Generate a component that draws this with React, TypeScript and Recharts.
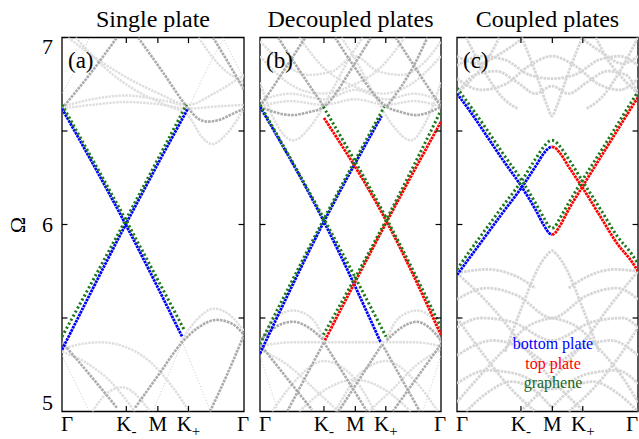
import { LineChart, Line, XAxis, YAxis, ReferenceArea, ReferenceLine } from 'recharts'

type Curve = number[][]

// path coordinate: Γ = 0 ... Γ = 6, value = Ω
const xTickVals = [0, 2.12, 3.16, 4.17, 6]
const xTickMain = ['Γ', 'K', 'M', 'K', 'Γ']
const xTickSub = ['', '-', '', '+', '']
const yTickVals = [5, 6, 7]
const innerTicksX = [2.12, 3.16, 4.17]
const innerTicksY = [5.5, 6, 6.5]
const titles = ['Single plate', 'Decoupled plates', 'Coupled plates']
const tags = ['(a)', '(b)', '(c)']
const legendNames = ['bottom plate', 'top plate', 'graphene']

// (a) single plate
const aBlue: Curve[] = [
  [[0, 6.62], [2.1, 6.0], [3.96, 5.4]],
  [[0, 5.33], [2.1, 6.0], [4.15, 6.62]],
]
const aGreen: Curve[] = [
  [[0, 6.64], [2.1, 6.025], [4.05, 5.43]],
  [[0, 5.4], [2.1, 6.025], [4.1, 6.64]],
]
const aDark: Curve[] = [
  [[0, 6.62], [0.9, 6.8], [1.81, 7.0]],
  [[2.51, 7.0], [3.3, 6.82], [4.17, 6.62], [4.5, 6.565], [4.8, 6.55], [5.2, 6.56], [5.6, 6.59], [6, 6.62]],
  [[4.98, 7.0], [5.5, 6.86], [6, 6.72]],
  [[0, 5.37], [0.9, 5.2], [1.81, 5.02]],
  [[2.41, 5.02], [3.2, 5.2], [3.96, 5.37], [4.5, 5.45], [5.1, 5.49], [5.6, 5.47], [6, 5.41]],
  [[4.88, 5.0], [5.45, 5.2], [6, 5.41]],
]
const aLight: Curve[] = [
  [[0, 6.62], [1, 6.64], [2.1, 6.655], [3.1, 6.645], [4.17, 6.62], [5, 6.63], [6, 6.64]],
  [[0, 6.63], [1, 6.67], [2.1, 6.69], [3.1, 6.67], [4.17, 6.63]],
  [[0.45, 7.0], [1.4, 6.84], [2.4, 6.72], [3.4, 6.64], [4.17, 6.58], [4.6, 6.47], [4.95, 6.43], [5.4, 6.48], [6, 6.62]],
  [[0.2, 7.0], [1.2, 6.88], [2.2, 6.78], [3.2, 6.7], [4.17, 6.64], [5, 6.7], [6, 6.8]],
  [[4.5, 7.0], [5.2, 6.85], [6, 6.76]],
  [[0, 5.33], [0.6, 5.36], [1.3, 5.37], [2.0, 5.35], [2.8, 5.28], [3.6, 5.14], [4.2, 5.0]],
  [[0, 5.32], [0.8, 5.26], [1.6, 5.16], [2.4, 5.0]],
  [[1.0, 5.0], [1.5, 5.1], [2.0, 5.13], [2.5, 5.08], [2.9, 5.0]],
  [[3.9, 5.37], [4.5, 5.5], [5.0, 5.55], [5.5, 5.52], [6, 5.43]],
]
const aThin: Curve[] = [
  [[0, 5.3], [0.9, 5.0]],
  [[3.0, 5.0], [3.96, 5.37]],
  [[4.0, 5.36], [4.9, 5.0]],
  [[4.17, 6.62], [5.0, 6.9], [5.35, 7.0]],
  [[5.3, 7.0], [6, 6.78]],
  [[0, 6.7], [0.5, 6.85], [0.9, 7.0]],
]

// (b) decoupled plates
const bBlue: Curve[] = [
  [[0, 6.63], [2.12, 6.015], [4.0, 5.37]],
  [[0, 5.31], [2.12, 6.015], [4.03, 6.58]],
]
const bRed: Curve[] = [
  [[2.12, 6.57], [4.2, 6.015], [6, 5.41]],
  [[2.15, 5.38], [4.2, 6.015], [6, 6.55]],
]
const bGreen: Curve[] = [
  [[0, 6.64], [2.12, 6.03], [4.18, 5.4]],
  [[0, 5.36], [2.12, 6.03], [4.12, 6.63]],
  [[2.1, 6.63], [4.2, 6.03], [6, 5.45]],
  [[2.1, 5.41], [4.2, 6.03], [6, 6.61]],
]
const bDark: Curve[] = [
  [[0, 6.63], [0.9, 6.85], [1.5, 7.0]],
  [[0.6, 7.0], [1.2, 6.85], [2.12, 6.63]],
  [[0, 6.63], [0.5, 6.6], [1.05, 6.585], [1.6, 6.6], [2.12, 6.63], [3.1, 6.85], [3.68, 7.0]],
  [[2.49, 7.0], [3.1, 6.85], [4.2, 6.63], [4.7, 6.6], [5.15, 6.585], [5.6, 6.6], [6, 6.63]],
  [[4.2, 6.63], [5.1, 6.85], [5.55, 7.0]],
  [[4.5, 7.0], [5.1, 6.85], [6, 6.63]],
  [[0, 5.38], [0.5, 5.45], [1.1, 5.48], [1.6, 5.45], [2.12, 5.38]],
  [[4.2, 5.38], [4.7, 5.45], [5.2, 5.48], [5.6, 5.45], [6, 5.38]],
  [[0, 5.36], [1.72, 5.01]],
  [[0.9, 5.0], [2.12, 5.37]],
  [[2.12, 5.37], [3.55, 5.0]],
  [[2.6, 5.0], [4.05, 5.36]],
  [[4.05, 5.36], [5.3, 5.0]],
  [[4.4, 5.0], [6, 5.36]],
]
const bLight: Curve[] = [
  [[0, 6.63], [1, 6.66], [2.12, 6.64], [3.15, 6.67], [4.2, 6.64], [5.1, 6.66], [6, 6.63]],
  [[0, 6.66], [1, 6.7], [2.12, 6.67], [3.15, 6.72], [4.2, 6.67], [5.1, 6.7], [6, 6.66]],
  [[0, 6.76], [0.5, 6.55], [1.1, 6.45], [1.7, 6.53], [2.4, 6.72], [3.0, 6.9], [3.4, 7.0]],
  [[2.7, 7.0], [3.1, 6.9], [3.7, 6.72], [4.4, 6.53], [5.0, 6.45], [5.5, 6.55], [6, 6.76]],
  [[0, 6.9], [1, 6.75], [2, 6.7], [3, 6.74], [4, 6.84], [4.8, 7.0]],
  [[1.3, 7.0], [2.1, 6.84], [3.1, 6.74], [4.1, 6.7], [5, 6.75], [6, 6.9]],
  [[0, 6.98], [0.8, 6.86], [1.6, 6.8], [2.4, 6.82], [3.15, 6.9], [3.9, 6.82], [4.7, 6.8], [5.4, 6.86], [6, 6.98]],
  [[0, 5.35], [1.1, 5.37], [2.12, 5.37], [3.15, 5.37], [4.2, 5.37], [5.1, 5.37], [6, 5.35]],
  [[0, 5.36], [0.5, 5.5], [1.1, 5.54], [1.7, 5.5], [2.12, 5.39]],
  [[4.2, 5.39], [4.6, 5.5], [5.2, 5.54], [5.7, 5.5], [6, 5.36]],
  [[0, 5.33], [0.9, 5.25], [1.8, 5.12], [2.6, 5.0]],
  [[3.6, 5.0], [4.4, 5.12], [5.2, 5.25], [6, 5.33]],
  [[1.3, 5.0], [2.2, 5.12], [3.15, 5.17], [4.1, 5.12], [5.0, 5.0]],
  [[0.4, 5.0], [1.2, 5.17], [2.1, 5.27], [3.0, 5.2], [3.8, 5.0]],
  [[2.5, 5.0], [3.3, 5.2], [4.2, 5.27], [5.1, 5.17], [5.9, 5.0]],
]
const bThin: Curve[] = [
  [[0, 5.3], [0.6, 5.0]],
  [[5.4, 5.0], [6, 5.3]],
]

// (c) coupled plates
const cBlue: Curve[] = [
  [[0, 6.7], [0.5, 6.59], [1.0, 6.47], [1.5, 6.35], [2.15, 6.2], [2.6, 6.08], [2.9, 5.99], [3.05, 5.955], [3.15, 5.945]],
  [[0, 5.73], [0.5, 5.84], [1.0, 5.95], [1.5, 6.06], [2.15, 6.2], [2.6, 6.31], [2.9, 6.385], [3.05, 6.41], [3.15, 6.415]],
]
const cRed: Curve[] = [
  [[3.15, 5.945], [3.25, 5.955], [3.4, 5.99], [3.7, 6.08], [4.15, 6.2], [4.8, 6.37], [5.3, 6.5], [5.8, 6.63], [6, 6.68]],
  [[3.15, 6.415], [3.25, 6.41], [3.4, 6.385], [3.7, 6.31], [4.15, 6.2], [4.8, 6.03], [5.3, 5.9], [5.8, 5.8], [6, 5.75]],
]
const cGreen: Curve[] = [
  [[0, 6.73], [0.5, 6.62], [1.0, 6.505], [1.5, 6.385], [2.15, 6.235], [2.6, 6.115], [2.9, 6.03], [3.05, 5.99], [3.15, 5.98],
    [3.25, 5.99], [3.4, 6.03], [3.7, 6.115], [4.15, 6.235], [4.8, 6.4], [5.3, 6.53], [5.8, 6.66], [6, 6.71]],
  [[0, 5.76], [0.5, 5.875], [1.0, 5.985], [1.5, 6.095], [2.15, 6.235], [2.6, 6.35], [2.9, 6.42], [3.05, 6.445], [3.15, 6.45],
    [3.25, 6.445], [3.4, 6.42], [3.7, 6.35], [4.15, 6.235], [4.8, 6.07], [5.3, 5.94], [5.8, 5.84], [6, 5.79]],
]
const cLight: Curve[] = [
  [[2.15, 7.0], [2.7, 6.77], [3.0, 6.63], [3.15, 6.58], [3.3, 6.63], [3.6, 6.77], [4.15, 7.0]],
  [[0, 6.7], [0.6, 6.8], [1.3, 6.82], [2.0, 6.76], [2.6, 6.7], [3.15, 6.74], [3.7, 6.7], [4.3, 6.76], [5.0, 6.82], [5.6, 6.8], [6, 6.7]],
  [[0, 6.78], [0.8, 6.72], [1.6, 6.75], [2.4, 6.85], [3.15, 6.9], [3.9, 6.85], [4.7, 6.75], [5.4, 6.72], [6, 6.78]],
  [[0, 6.85], [0.8, 6.9], [1.6, 6.88], [2.4, 6.8], [3.15, 6.78], [3.9, 6.8], [4.7, 6.88], [5.4, 6.9], [6, 6.85]],
  [[0, 6.9], [0.7, 6.86], [1.5, 6.92], [2.2, 7.0]],
  [[4.1, 7.0], [4.8, 6.92], [5.5, 6.86], [6, 6.9]],
  [[0, 6.7], [0.5, 6.78], [1.0, 6.88], [1.4, 7.0]],
  [[4.6, 7.0], [5.0, 6.88], [5.5, 6.78], [6, 6.7]],
  [[0.3, 7.0], [0.9, 6.82], [1.5, 6.68], [2.0, 6.62]],
  [[4.3, 6.62], [4.8, 6.68], [5.4, 6.82], [6, 7.0]],
  [[1.6, 5.32], [2.2, 5.58], [2.7, 5.77], [3.0, 5.84], [3.15, 5.86], [3.3, 5.84], [3.6, 5.77], [4.1, 5.58], [4.7, 5.32]],
  [[0, 5.74], [1.0, 5.76], [2.0, 5.72], [2.6, 5.66]],
  [[3.7, 5.66], [4.3, 5.72], [5.2, 5.76], [6, 5.75]],
  [[0, 5.74], [1.2, 5.55], [2.2, 5.35], [3.15, 5.17], [4.2, 5.0]],
  [[2.1, 5.0], [3.15, 5.17], [4.1, 5.35], [5.0, 5.55], [6, 5.75]],
  [[0, 5.6], [1.0, 5.66], [2.0, 5.62], [3.15, 5.5], [4.3, 5.62], [5.3, 5.66], [6, 5.6]],
  [[0, 5.45], [0.8, 5.5], [1.8, 5.48], [3.15, 5.38], [4.5, 5.48], [5.5, 5.5], [6, 5.45]],
  [[0, 5.3], [1.2, 5.38], [2.3, 5.33], [3.15, 5.25], [4.0, 5.33], [5.1, 5.38], [6, 5.3]],
  [[0, 5.15], [1, 5.22], [2, 5.2], [3.15, 5.12], [4.3, 5.2], [5.3, 5.22], [6, 5.15]],
  [[0, 5.5], [0.9, 5.3], [1.8, 5.12], [2.6, 5.0]],
  [[3.7, 5.0], [4.5, 5.12], [5.4, 5.3], [6, 5.45]],
  [[0.3, 5.0], [1.0, 5.1], [1.8, 5.16], [2.5, 5.12], [3.15, 5.02]],
  [[3.15, 5.02], [3.8, 5.12], [4.5, 5.16], [5.3, 5.1], [6, 5.0]],
  [[0, 5.05], [0.7, 5.18], [1.5, 5.32], [2.3, 5.45], [3.15, 5.5]],
  [[3.15, 5.5], [4.0, 5.45], [4.8, 5.32], [5.5, 5.18], [6, 5.05]],
]

type Style = { stroke: string; strokeWidth: number; strokeDasharray: string }
const DARK: Style = { stroke: '#ababab', strokeWidth: 2.6, strokeDasharray: '2.6 1' }
const LIGHT: Style = { stroke: '#dedede', strokeWidth: 2.4, strokeDasharray: '2.4 1' }
const LIGHT_C: Style = { stroke: '#d6d6d6', strokeWidth: 2.8, strokeDasharray: '2.6 1' }
const THIN: Style = { stroke: '#d0d0d0', strokeWidth: 1, strokeDasharray: '1.2 1.8' }
const BLUE: Style = { stroke: '#0000ff', strokeWidth: 2.8, strokeDasharray: '2.6 0.8' }
const RED: Style = { stroke: '#ff0000', strokeWidth: 2.8, strokeDasharray: '2.6 0.8' }
const GREEN: Style = { stroke: '#1c7a1c', strokeWidth: 3, strokeDasharray: '2.2 2.4' }

const FONT = 'Liberation Serif'

const pts = (c: Curve) => c.map(([x, y]) => ({ x, y }))

function XTick(props: any) {
  const { x, y, payload, lastShift } = props
  const i = xTickVals.indexOf(payload.value)
  const shift = i === 0 ? 5 : i === xTickVals.length - 1 ? lastShift : 0
  return (
    <text x={x + shift} y={y + 19} textAnchor="middle" style={{ fontFamily: FONT }} fontSize={21} fill="#000">
      {xTickMain[i]}
      {xTickSub[i] && (
        <tspan dy={5} fontSize={15}>
          {xTickSub[i]}
        </tspan>
      )}
    </text>
  )
}

function YTick(props: any) {
  const { x, y, payload } = props
  const v = payload.value
  const dy = v === 7 ? 9 : v === 5 ? -9 : 0
  return (
    <text x={x - 9} y={y + dy} dy="0.35em" textAnchor="end" style={{ fontFamily: FONT }} fontSize={22} fill="#000">
      {v}
    </text>
  )
}

function Panel(props: {
  left: number
  plotW: number
  showY: boolean
  lastShift: number
  dark: Curve[]
  light: Curve[]
  thin: Curve[]
  blue: Curve[]
  red: Curve[]
  green: Curve[]
  lightStyle: Style
}) {
  const padL = props.showY ? 62 : 2
  const padR = 10
  const width = padL + props.plotW + padR
  const curves = (list: Curve[], st: Style, key: string) =>
    list.map((c, i) => (
      <Line
        key={key + i}
        data={pts(c)}
        dataKey="y"
        type="monotone"
        dot={false}
        activeDot={false}
        isAnimationActive={false}
        {...st}
      />
    ))
  return (
    <div style={{ position: 'absolute', left: props.left - padL, top: 0 }}>
      <LineChart
        width={width}
        height={439}
        margin={{ top: 37.5, right: padR, bottom: 0.5, left: props.showY ? 0 : 2 }}
      >
        <XAxis
          type="number"
          dataKey="x"
          domain={[0, 6]}
          ticks={xTickVals}
          interval={0}
          allowDataOverflow
          tick={(p: any) => <XTick {...p} lastShift={props.lastShift} />}
          tickLine={false}
          axisLine={false}
          tickSize={0}
          tickMargin={0}
          height={27}
        />
        <YAxis
          type="number"
          domain={[5, 7]}
          ticks={yTickVals}
          interval={0}
          allowDataOverflow
          hide={!props.showY}
          width={62}
          tick={(p: any) => <YTick {...p} />}
          tickLine={false}
          axisLine={false}
          tickSize={0}
          tickMargin={0}
        />
        {curves(props.light, props.lightStyle, 'l')}
        {curves(props.thin, THIN, 't')}
        {curves(props.dark, DARK, 'd')}
        {curves(props.blue, BLUE, 'b')}
        {curves(props.red, RED, 'r')}
        {curves(props.green, GREEN, 'g')}
        {innerTicksX.map((v) => (
          <ReferenceLine key={'xb' + v} segment={[{ x: v, y: 5 }, { x: v, y: 5.03 }]} stroke="#000" strokeWidth={1.2} ifOverflow="visible" />
        ))}
        {innerTicksX.map((v) => (
          <ReferenceLine key={'xt' + v} segment={[{ x: v, y: 7 }, { x: v, y: 6.97 }]} stroke="#000" strokeWidth={1.2} ifOverflow="visible" />
        ))}
        {innerTicksY.map((v) => (
          <ReferenceLine key={'yl' + v} segment={[{ x: 0, y: v }, { x: 0.18, y: v }]} stroke="#000" strokeWidth={1.2} ifOverflow="visible" />
        ))}
        {innerTicksY.map((v) => (
          <ReferenceLine key={'yr' + v} segment={[{ x: 6, y: v }, { x: 5.82, y: v }]} stroke="#000" strokeWidth={1.2} ifOverflow="visible" />
        ))}
        <ReferenceArea x1={0} x2={6} y1={5} y2={7} fill="none" fillOpacity={0} stroke="#000" strokeWidth={1.3} ifOverflow="visible" />
      </LineChart>
    </div>
  )
}

export default function App() {
  const centers = [153, 350.5, 547.5]
  const tagX = [68, 266, 463]
  const legendColors = ['#0000ff', '#ff0000', '#226622']
  return (
    <div
      style={{
        position: 'absolute',
        left: 0,
        top: 0,
        width: 639,
        height: 439,
        overflow: 'hidden',
        background: '#fff',
        fontFamily: FONT,
      }}
    >
      <Panel left={62} plotW={182} showY lastShift={-1} dark={aDark} light={aLight} thin={aThin} blue={aBlue} red={[]} green={aGreen} lightStyle={LIGHT} />
      <Panel left={260} plotW={181} showY={false} lastShift={-1} dark={bDark} light={bLight} thin={bThin} blue={bBlue} red={bRed} green={bGreen} lightStyle={LIGHT} />
      <Panel left={457} plotW={181} showY={false} lastShift={-6} dark={[]} light={cLight} thin={[]} blue={cBlue} red={cRed} green={cGreen} lightStyle={LIGHT_C} />
      <svg width={639} height={439} style={{ position: 'absolute', left: 0, top: 0, pointerEvents: 'none', fontFamily: FONT }}>
        {titles.map((t, i) => (
          <text key={t} x={centers[i]} y={27} textAnchor="middle" fontSize={24} fill="#000">
            {t}
          </text>
        ))}
        {tags.map((t, i) => (
          <text key={t} x={tagX[i]} y={68} fontSize={23} fill="#000">
            {t}
          </text>
        ))}
        <text x={17} y={225} dy="0.35em" textAnchor="middle" fontSize={22} fill="#000" transform="rotate(-90 17 225)">
          Ω
        </text>
        {legendNames.map((t, i) => (
          <text key={t} x={553} y={349 + i * 19.5} textAnchor="middle" fontSize={16} fill={legendColors[i]}>
            {t}
          </text>
        ))}
      </svg>
    </div>
  )
}
